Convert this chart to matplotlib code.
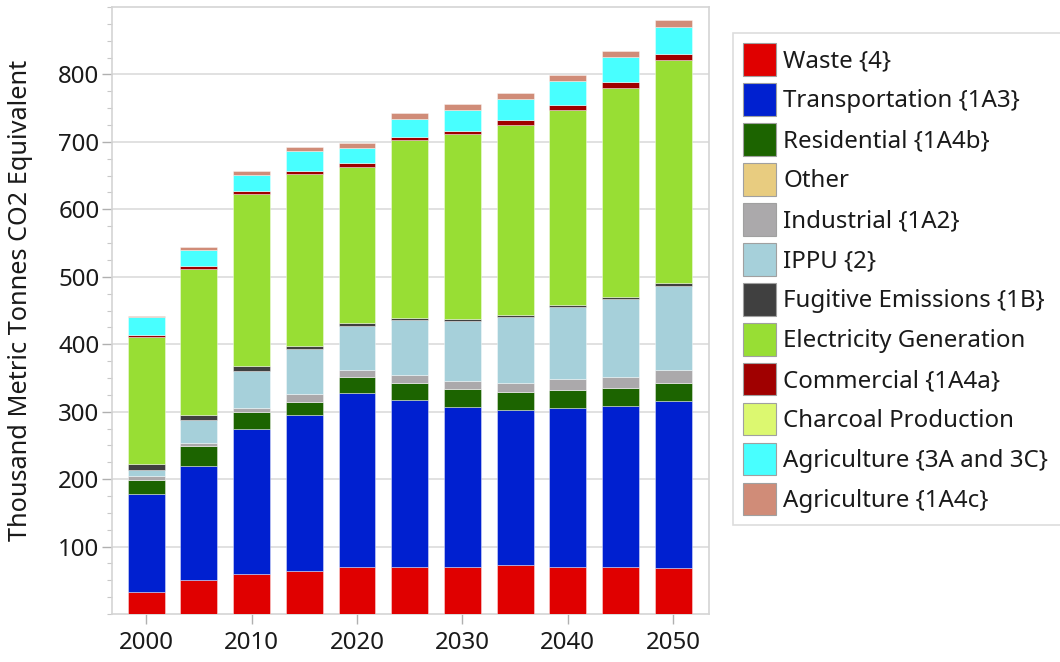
import matplotlib
matplotlib.use("Agg")
import matplotlib.pyplot as plt
import numpy as np
from matplotlib.ticker import MultipleLocator

plt.rcParams['font.family'] = ['Noto Sans', 'DejaVu Sans']

years = [2000, 2005, 2010, 2015, 2020, 2025, 2030, 2035, 2040, 2045, 2050]

categories = ["Waste {4}", "Transportation {1A3}", "Residential {1A4b}", "Other",
              "Industrial {1A2}", "IPPU {2}", "Fugitive Emissions {1B}",
              "Electricity Generation", "Commercial {1A4a}", "Charcoal Production",
              "Agriculture {3A and 3C}", "Agriculture {1A4c}"]

waste = [33, 51, 60, 64, 70, 70, 70, 72, 70, 70, 68]
transportation = [145, 168, 214, 231, 257, 248, 237, 231, 236, 238, 248]
residential = [21, 30, 25, 20, 24, 24, 26, 26, 26, 27, 27]
other = [0, 0, 0, 0, 0, 0, 0, 0, 0, 0, 0]
industrial = [6, 5, 7, 11, 11, 12, 13, 14, 16, 16, 19]
ippu = [8, 34, 54, 67, 65, 82, 89, 98, 107, 116, 125]
fugitive = [10, 7, 7, 5, 4, 3.5, 3, 3, 3, 3.4, 4.5]
electricity = [187, 216, 255, 255, 232, 263, 273, 281, 290, 310, 330]
commercial = [3.5, 4.5, 4.5, 4, 5, 5, 5.4, 6.8, 7.4, 7.9, 9.4]
charcoal = [0, 0, 0, 0, 0, 0, 0, 0, 0, 0, 0]
agri_3a3c = [27, 24, 25, 29, 23, 27, 31, 32, 35, 37, 39]
agri_1a4c = [1, 4.5, 5, 7, 7.5, 8, 9, 9, 9, 10, 11]

series = [waste, transportation, residential, other, industrial, ippu, fugitive,
          electricity, commercial, charcoal, agri_3a3c, agri_1a4c]

colors = ["#e00000", "#0020d0", "#1c6400", "#e8cc80", "#aba9ab", "#a6d0da",
          "#404040", "#98de34", "#a00000", "#dcf870", "#48ffff", "#d08c78"]

fig = plt.figure(figsize=(10.6, 6.62), dpi=100)
ax = fig.add_axes([112/1060, 1 - 614/662, (709-112)/1060, (614-7)/662])

x = np.array(years, dtype=float)
bottom = np.zeros(len(years))
handles = []
for name, vals, c in zip(categories, series, colors):
    v = np.array(vals, dtype=float)
    b = ax.bar(x, v, width=3.5, bottom=bottom, color=c, label=name,
               edgecolor=(1, 1, 1, 0.45), linewidth=0.6, zorder=3)
    bottom += v
    handles.append(b)

ax.set_xlim(1996.75, 2053.4)
ax.set_ylim(0, 900)
ax.set_xticks([2000, 2010, 2020, 2030, 2040, 2050])
ax.set_yticks([100, 200, 300, 400, 500, 600, 700, 800])
ax.yaxis.set_minor_locator(MultipleLocator(25))
ax.grid(axis='y', which='major', color='#dcdcdc', linewidth=1.2, zorder=0)
ax.tick_params(axis='both', which='major', labelsize=17.3, colors='#b0b0b0',
               labelcolor='#1a1a1a', length=7, width=1)
ax.tick_params(axis='y', which='minor', colors='#c8c8c8', length=3.5, width=0.8)
ax.tick_params(axis='x', pad=5)
ax.tick_params(axis='y', pad=2)
for s in ax.spines.values():
    s.set_color('#d4d4d4')
    s.set_linewidth(1.2)

ax.set_ylabel("Thousand Metric Tonnes CO2 Equivalent", fontsize=18.2, color='#1a1a1a')
ax.yaxis.set_label_coords(-0.133, 0.517)

top = 1 - 33/662
leg = fig.legend(handles=handles, labels=categories, loc='upper left',
                 bbox_to_anchor=(733/1060, top - 0.5, 0.4, 0.5), mode='expand',
                 fontsize=17.3, frameon=True, fancybox=False,
                 handlelength=1.361, handleheight=1.717,
                 labelspacing=0.302, handletextpad=0.3, borderpad=0.42,
                 borderaxespad=0, edgecolor='#d4d4d4')
leg.get_frame().set_linewidth(1.2)
for h in leg.legend_handles:
    h.set_edgecolor('#a0a0a0')
    h.set_linewidth(0.8)
for t in leg.get_texts():
    t.set_color('#1a1a1a')

fig.savefig("out.png", dpi=100)
